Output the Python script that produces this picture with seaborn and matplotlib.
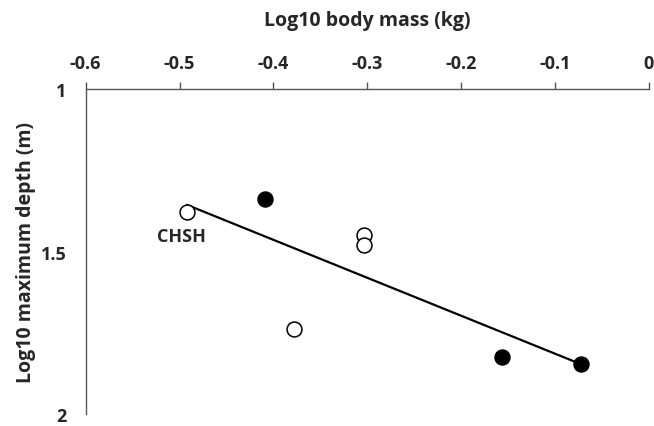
import numpy as np
import pandas as pd
import matplotlib
matplotlib.use("Agg")
import matplotlib.pyplot as plt
import seaborn as sns

# Species values: log10 body mass (kg) vs log10 maximum dive depth (m)
body_mass = [-0.492, -0.409, -0.303, -0.303, -0.378, -0.156, -0.072]
max_depth = [1.378, 1.338, 1.448, 1.479, 1.738, 1.823, 1.845]
filled = [False, True, False, False, False, True, True]
point_labels = ["CHSH", "", "", "", "", "", ""]

x_ticks = [-0.6, -0.5, -0.4, -0.3, -0.2, -0.1, 0]
x_tick_labels = ["-0.6", "-0.5", "-0.4", "-0.3", "-0.2", "-0.1", "0"]
y_ticks = [1, 1.5, 2]
y_tick_labels = ["1", "1.5", "2"]

df = pd.DataFrame({"mass": body_mass, "depth": max_depth,
                   "filled": filled, "label": point_labels})

sns.set_style("white")
plt.rcParams["font.family"] = ["Open Sans", "DejaVu Sans"]

axis_grey = "#555555"

fig = plt.figure(figsize=(6.54, 4.27), dpi=100)
ax = fig.add_axes([0.131, 0.028, 0.861, 0.761])

# Least-squares trend line over all species
sns.regplot(data=df, x="mass", y="depth", scatter=False, ci=None,
            truncate=True, color="black", line_kws={"lw": 1.6}, ax=ax)

sns.scatterplot(data=df[~df["filled"]], x="mass", y="depth", s=115,
                color="white", edgecolor="black", linewidth=1.1, ax=ax, zorder=3)
sns.scatterplot(data=df[df["filled"]], x="mass", y="depth", s=115,
                color="black", edgecolor="black", linewidth=1.1, ax=ax, zorder=3)

for _, row in df.iterrows():
    if row["label"]:
        ax.annotate(row["label"], (row["mass"], row["depth"]),
                    xytext=(-4, -17), textcoords="offset points",
                    ha="center", va="center", fontsize=13, fontweight="bold")

ax.set_xlim(-0.6, 0)
ax.set_ylim(2, 1)
ax.xaxis.tick_top()
ax.xaxis.set_label_position("top")
ax.set_xticks(x_ticks)
ax.set_xticklabels(x_tick_labels)
ax.set_yticks(y_ticks)
ax.set_yticklabels(y_tick_labels)
ax.tick_params(axis="x", direction="out", length=5, width=1,
               color=axis_grey, labelsize=13, pad=7)
ax.tick_params(axis="y", direction="out", length=8, width=1,
               color=axis_grey, labelsize=13, pad=6)
for lab in ax.get_xticklabels() + ax.get_yticklabels():
    lab.set_fontweight("bold")

ax.set_xlabel("Log10 body mass (kg)", fontsize=14, fontweight="bold", labelpad=21)
ax.set_ylabel("Log10 maximum depth (m)", fontsize=14, fontweight="bold", labelpad=3)

for side in ["bottom", "right"]:
    ax.spines[side].set_visible(False)
for side in ["top", "left"]:
    ax.spines[side].set_color(axis_grey)
    ax.spines[side].set_linewidth(1)

fig.savefig("out.png", dpi=100)
